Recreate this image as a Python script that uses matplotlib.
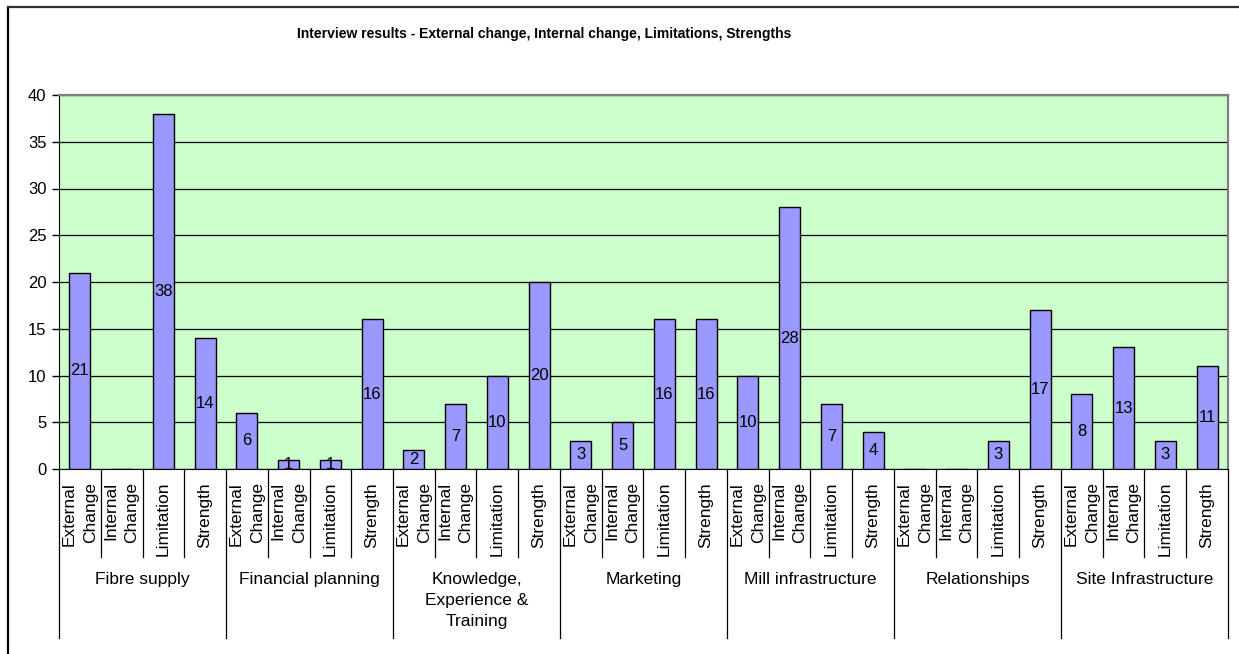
import matplotlib
matplotlib.use("Agg")
import matplotlib.pyplot as plt
from matplotlib.lines import Line2D
import numpy as np

plt.rcParams['font.family'] = ['Liberation Sans', 'DejaVu Sans']

groups = ["Fibre supply", "Financial planning", "Knowledge,\nExperience &\nTraining",
          "Marketing", "Mill infrastructure", "Relationships", "Site Infrastructure"]
subcats = ["External\nChange", "Internal\nChange", "Limitation", "Strength"]

fibre_supply = [21, 0, 38, 14]
financial_planning = [6, 1, 1, 16]
knowledge = [2, 7, 10, 20]
marketing = [3, 5, 16, 16]
mill_infrastructure = [10, 28, 7, 4]
relationships = [0, 0, 3, 17]
site_infrastructure = [8, 13, 3, 11]

title = "Interview results - External change, Internal change, Limitations, Strengths"
y_ticks = [0, 5, 10, 15, 20, 25, 30, 35, 40]

values = (fibre_supply + financial_planning + knowledge + marketing
          + mill_infrastructure + relationships + site_infrastructure)
n_sub = len(subcats)
n = len(values)
x = np.arange(n)

W, H = 1239, 654
fig = plt.figure(figsize=(W / 100, H / 100), dpi=100)

# chart frame
fig.add_artist(Line2D([8 / W, 8 / W], [0, 1 - 7 / H], transform=fig.transFigure,
                      color='black', lw=1.6))
fig.add_artist(Line2D([8 / W, 1.0], [1 - 7 / H, 1 - 7 / H], transform=fig.transFigure,
                      color='#333333', lw=1.6))

left, right, top, bottom = 59, 1228, 95, 469
ax = fig.add_axes([left / W, 1 - bottom / H, (right - left) / W, (bottom - top) / H])
ax.set_facecolor('#CCFFCC')

ax.set_ylim(0, 40)
ax.set_xlim(-0.5, n - 0.5)
ax.set_yticks(y_ticks)
ax.yaxis.grid(True, color='black', lw=0.9)
ax.set_axisbelow(True)

bars = ax.bar(x, values, width=0.5, color='#9999FF', edgecolor='black', lw=1.0, zorder=3)
for xi, v in zip(x, values):
    if v:
        ax.text(xi, v / 2, str(v), ha='center', va='center', fontsize=12, zorder=4)

for side in ['top', 'right']:
    ax.spines[side].set_color('#808080')
    ax.spines[side].set_linewidth(1.6)
ax.spines['left'].set_color('black')
ax.spines['bottom'].set_color('black')
ax.tick_params(axis='y', length=5, width=1, labelsize=12, pad=4)
ax.set_xticks([])

tr = ax.get_xaxis_transform()
plot_h = bottom - top


def frac(py):
    return (bottom - py) / plot_h


# sub-category separators and labels
for i in range(1, n):
    if i % n_sub:
        ax.add_line(Line2D([i - 0.5, i - 0.5], [0, frac(557)], transform=tr,
                           color='black', lw=0.9, clip_on=False))
for g in range(len(groups) + 1):
    xb = g * n_sub - 0.5
    ax.add_line(Line2D([xb, xb], [0, frac(638)], transform=tr,
                       color='black', lw=0.9, clip_on=False))

for i in range(n):
    ax.text(i, frac(482), subcats[i % n_sub], rotation=90, ha='center', va='top',
            multialignment='right', fontsize=12.5, transform=tr, linespacing=1.5)

for g, name in enumerate(groups):
    ax.text(g * n_sub + (n_sub - 1) / 2, frac(572), name, ha='center', va='top',
            fontsize=12.5, transform=tr, linespacing=1.5)

fig.text(544 / W, 1 - 34 / H, title, ha='center', va='center',
         fontsize=10, fontweight='bold')

fig.savefig('out.png', dpi=100)
